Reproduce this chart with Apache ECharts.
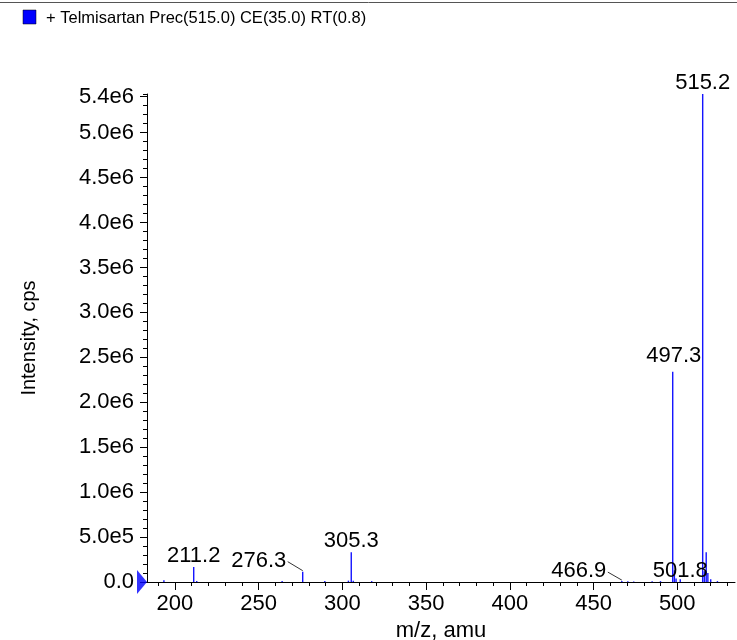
<!DOCTYPE html>
<html>
<head>
<meta charset="utf-8">
<script src="https://cdn.jsdelivr.net/npm/echarts@6/dist/echarts.min.js"></script>
<style>
html,body{margin:0;padding:0;background:#fff;}
#chart{width:737px;height:640px;}
</style>
</head>
<body>
<div id="chart"></div>
<script>
// ---- data ----
const titleText = '+ Telmisartan Prec(515.0) CE(35.0) RT(0.8)';
const xName = 'm/z, amu';
const yName = 'Intensity, cps';
const xMin = 183.3, xMax = 534.5;
const yMin = 0, yMax = 5.43e6;
const peakMz = [193.4, 211.2, 213.0, 264.0, 276.3, 289.5, 303.6, 305.3, 306.5, 317.5,
                466.9, 470.5, 474.0, 485.0, 490.0, 497.3, 498.3, 499.3, 501.8, 515.2, 516.2, 517.3, 518.3, 520.0, 524.0];
const peakInt = [2.0e4, 1.67e5, 1.0e4, 1.0e4, 1.15e5, 1.0e4, 1.5e4, 3.3e5, 1.5e4, 1.0e4,
                 1.0e4, 8.0e3, 6.0e3, 8.0e3, 1.0e4, 2.34e6, 1.3e5, 4.0e4, 3.0e4, 5.43e6, 1.2e5, 3.3e5, 1.0e5, 3.0e4, 1.0e4];
const labelMz = [211.2, 276.3, 305.3, 466.9, 497.3, 501.8, 515.2];
const labelInt = [1.67e5, 1.15e5, 3.3e5, 1.0e4, 2.34e6, 3.0e4, 5.43e6];
const labelText = ['211.2', '276.3', '305.3', '466.9', '497.3', '501.8', '515.2'];
const xMajorTicks = [200, 250, 300, 350, 400, 450, 500];
const xMinorTicks = [190,200,210,220,230,240,250,260,270,280,290,300,310,320,330,340,350,360,370,380,390,400,410,420,430,440,450,460,470,480,490,500,510,520,530];
const yMajorTicks = [0, 5e5, 1e6, 1.5e6, 2e6, 2.5e6, 3e6, 3.5e6, 4e6, 4.5e6, 5e6, 5.4e6];

// ---- label placement (style only) ----
const labelOffsets = {
  '211.2': {dx: 0, dy: 0, leader: false},
  '276.3': {dx: -44, dy: 0, leader: true},
  '305.3': {dx: 0, dy: 0, leader: false},
  '466.9': {dx: -43, dy: 1, leader: true},
  '497.3': {dx: 1, dy: -5, leader: false},
  '501.8': {dx: 0, dy: 3, leader: false},
  '515.2': {dx: 0, dy: 0, leader: false}
};

const FONT = 'Liberation Sans, Arial, Helvetica, sans-serif';
const PEAK_COLOR = '#1414ff';
const chart = echarts.init(document.getElementById('chart'), null, {renderer: 'canvas'});

const fmt = v => {
  if (v === 0) return '0.0';
  const e = Math.floor(Math.log10(v) + 1e-9);
  const m = v / Math.pow(10, e);
  return m.toFixed(1) + 'e' + e;
};

const grid = {left: 147, right: 2, top: 94, bottom: 58, containLabel: false, outerBoundsMode: 'none'};
const xCommon = {type: 'value', min: xMin, max: xMax, gridIndex: 0};
const yCommon = {type: 'value', min: yMin, max: yMax, gridIndex: 0};

chart.setOption({
  animation: false,
  backgroundColor: '#fff',
  grid: grid,
  graphic: [
    {type: 'line', shape: {x1: 0, y1: 2.5, x2: 737, y2: 2.5}, style: {stroke: '#555', lineWidth: 1}},
    {type: 'rect', shape: {x: 23, y: 10, width: 13, height: 14}, style: {fill: '#0000ff', stroke: '#000', lineWidth: 0.5}},
    {type: 'text', x: 46, y: 18, style: {text: titleText, font: '16.5px ' + FONT, fill: '#000', textVerticalAlign: 'middle'}}
  ],
  xAxis: [
    Object.assign({}, xCommon, {
      position: 'bottom',
      name: xName, nameLocation: 'middle', nameGap: 35,
      nameTextStyle: {fontFamily: FONT, fontSize: 22, color: '#000'},
      axisLine: {show: true, onZero: false, lineStyle: {color: '#000', width: 1}},
      axisTick: {show: true, inside: false, length: 8, customValues: xMajorTicks, lineStyle: {color: '#000'}},
      axisLabel: {show: true, customValues: xMajorTicks, fontFamily: FONT, fontSize: 22, color: '#000', margin: 11},
      splitLine: {show: false}
    }),
    Object.assign({}, xCommon, {
      position: 'bottom',
      axisLine: {show: false, onZero: false},
      axisTick: {show: true, inside: false, length: 4, customValues: xMinorTicks, lineStyle: {color: '#000'}},
      axisLabel: {show: false},
      splitLine: {show: false}
    })
  ],
  yAxis: [
    Object.assign({}, yCommon, {
      position: 'left',
      name: yName, nameLocation: 'middle', nameGap: 108, nameRotate: 90,
      nameTextStyle: {fontFamily: FONT, fontSize: 20, color: '#000'},
      axisLine: {show: true, onZero: false, lineStyle: {color: '#000', width: 1}},
      axisTick: {show: true, inside: false, length: 7, customValues: yMajorTicks, lineStyle: {color: '#000'}},
      axisLabel: {show: true, customValues: yMajorTicks, formatter: fmt, fontFamily: FONT, fontSize: 22, color: '#000', margin: 13},
      splitLine: {show: false}
    }),
    Object.assign({}, yCommon, {
      position: 'left',
      interval: 1e5,
      axisLine: {show: false, onZero: false},
      axisTick: {show: true, inside: false, length: 4, lineStyle: {color: '#000'}},
      axisLabel: {show: false},
      splitLine: {show: false}
    })
  ],
  series: [
    {
      type: 'custom',
      xAxisIndex: 0, yAxisIndex: 0,
      clip: true,
      itemStyle: {color: PEAK_COLOR},
      data: peakMz.map((m, i) => [m, peakInt[i]]),
      renderItem: function (params, api) {
        const p0 = api.coord([api.value(0), 0]);
        const p1 = api.coord([api.value(0), api.value(1)]);
        return {
          type: 'rect',
          shape: {x: p0[0] - 0.7, y: p1[1], width: 1.4, height: p0[1] - p1[1]},
          style: {fill: PEAK_COLOR, stroke: null}
        };
      },
      z: 3
    },
    {
      type: 'custom',
      xAxisIndex: 0, yAxisIndex: 0,
      clip: false,
      data: labelMz.map((m, i) => [m, labelInt[i], i]),
      renderItem: function (params, api) {
        const i = api.value(2);
        const txt = labelText[i];
        const off = labelOffsets[txt];
        const p = api.coord([api.value(0), api.value(1)]);
        const tx = p[0] + off.dx, ty = p[1] + off.dy;
        const children = [{
          type: 'text', x: tx, y: ty,
          style: {text: txt, font: '22px ' + FONT, fill: '#000', textAlign: 'center', textVerticalAlign: 'bottom'}
        }];
        if (off.leader) {
          children.push({type: 'line', shape: {x1: tx + 29, y1: ty - 10, x2: p[0], y2: p[1] - 1}, style: {stroke: '#000', lineWidth: 0.8}});
        }
        return {type: 'group', children: children};
      },
      z: 4
    },
    {
      type: 'scatter',
      xAxisIndex: 0, yAxisIndex: 0,
      clip: false,
      data: [[xMin, 0]],
      symbol: 'triangle',
      symbolRotate: -90,
      symbolSize: [24, 10],
      symbolOffset: [-5, 0],
      itemStyle: {color: '#0000ff'},
      silent: true,
      z: 5
    }
  ]
});
</script>
</body>
</html>
